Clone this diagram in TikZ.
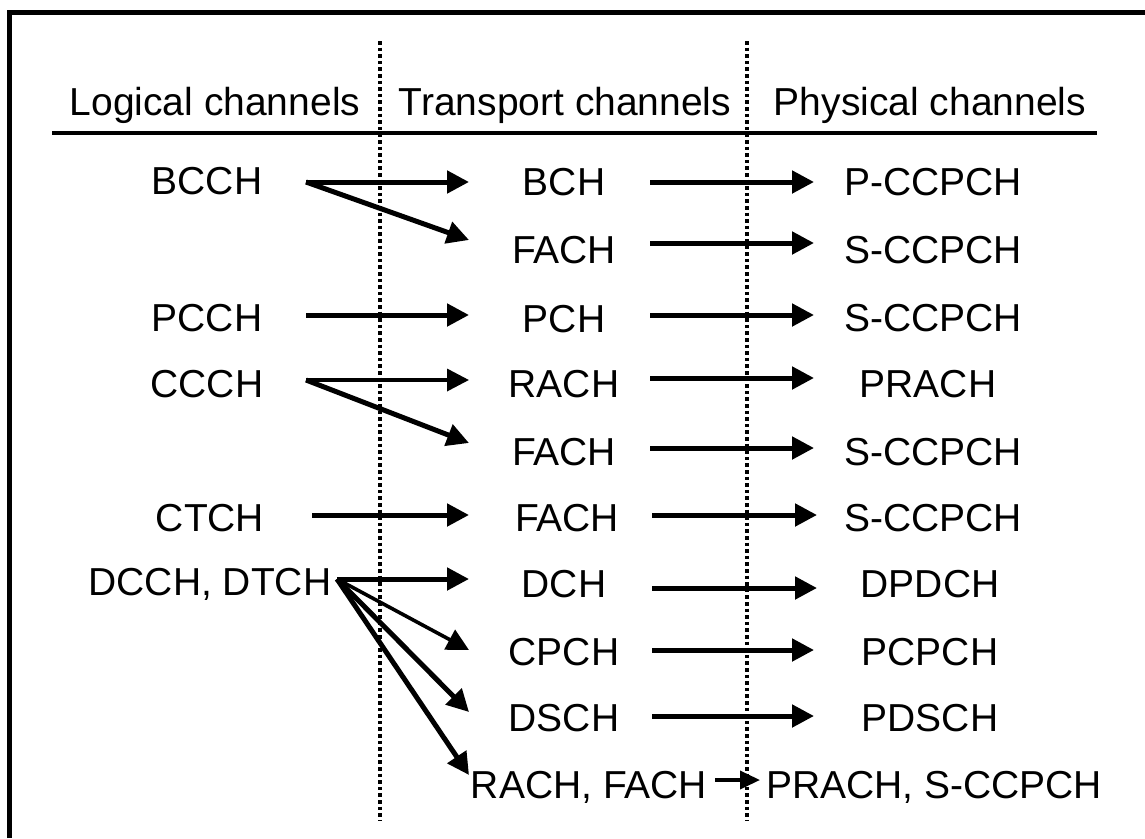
\documentclass[tikz,border=0pt]{standalone}
\usepackage{fontspec}
\setmainfont{Liberation Sans}
\usetikzlibrary{arrows.meta}
\begin{document}
\begin{tikzpicture}[x=1pt,y=-1pt,
  lbl/.style={anchor=base,inner sep=0pt,font=\fontsize{39}{45}\selectfont},
  conn/.style={line width=5pt,-{Triangle[length=22pt,width=22pt]}},
  thinconn/.style={conn,line width=3.6pt},
  sep/.style={line width=4.2pt,dash pattern=on 3.6pt off 3pt},
  rule/.style={line width=4.5pt}]
\useasboundingbox (0,0) rectangle (1145,838);
\fill[white] (0,0) rectangle (1145,838);

% frame (top and left edges)
\draw[line width=5pt] (9,838) -- (9,12) -- (1145,12);

% column separators and header rule
\draw[sep] (380,41) -- (380,820);
\draw[sep] (747,41) -- (747,820);
\draw[rule] (52,133) -- (1097,133);

% headers
\node[lbl] (hlog) at (215,115) {Logical channels};
\node[lbl] (htr)  at (565,115) {Transport channels};
\node[lbl] (hph)  at (930,115) {Physical channels};

% logical channels
\node[lbl] (bcch) at (207,194) {BCCH};
\node[lbl] (pcch) at (207,331) {PCCH};
\node[lbl] (ccch) at (207,397) {CCCH};
\node[lbl] (ctch) at (210,531) {CTCH};
\node[lbl] (dcch) at (210,595) {DCCH, DTCH};

% transport channels
\node[lbl] (bch)   at (564,195) {BCH};
\node[lbl] (fach1) at (564,263) {FACH};
\node[lbl] (pch)   at (564,332) {PCH};
\node[lbl] (rach)  at (564,397) {RACH};
\node[lbl] (fach2) at (564,465) {FACH};
\node[lbl] (fach3) at (567,531) {FACH};
\node[lbl] (dch)   at (564,597) {DCH};
\node[lbl] (cpch)  at (564,665) {CPCH};
\node[lbl] (dsch)  at (564,731) {DSCH};
\node[lbl] (rafa)  at (589,798) {RACH, FACH};

% physical channels
\node[lbl] (pccpch)  at (933,195) {P-CCPCH};
\node[lbl] (sccpch1) at (933,263) {S-CCPCH};
\node[lbl] (sccpch2) at (933,331) {S-CCPCH};
\node[lbl] (prach)   at (928,397) {PRACH};
\node[lbl] (sccpch3) at (933,465) {S-CCPCH};
\node[lbl] (sccpch4) at (933,531) {S-CCPCH};
\node[lbl] (dpdch)   at (930,597) {DPDCH};
\node[lbl] (pcpch)   at (930,665) {PCPCH};
\node[lbl] (pdsch)   at (930,731) {PDSCH};
\node[lbl] (prsc)    at (934,798) {PRACH, S-CCPCH};

% connector ports
\coordinate (bcchO) at (306,182);
\coordinate (pcchO) at (306,315);
\coordinate (ccchO) at (306,380);
\coordinate (ctchO) at (312,515);
\coordinate (dcchO) at (337,579);

\coordinate (bchI)   at (469,182);
\coordinate (fach1I) at (469,240);
\coordinate (pchI)   at (469,315);
\coordinate (rachI)  at (469,380);
\coordinate (fach2I) at (469,443);
\coordinate (fach3I) at (469,515);
\coordinate (dchI)   at (469,579);
\coordinate (cpchI)  at (469,650);
\coordinate (dschI)  at (469,712);
\coordinate (rafaI)  at (469,775);

\coordinate (bchO)   at (650,182);
\coordinate (fach1O) at (650,243);
\coordinate (pchO)   at (650,315);
\coordinate (rachO)  at (650,378);
\coordinate (fach2O) at (650,448);
\coordinate (fach3O) at (652,515);
\coordinate (dchO)   at (652,588);
\coordinate (cpchO)  at (652,650);
\coordinate (dschO)  at (652,716);
\coordinate (rafaO)  at (715,780);

\coordinate (pccpchI)  at (814,182);
\coordinate (sccpch1I) at (814,243);
\coordinate (sccpch2I) at (814,315);
\coordinate (prachI)   at (814,378);
\coordinate (sccpch3I) at (814,448);
\coordinate (sccpch4I) at (817,515);
\coordinate (dpdchI)   at (817,588);
\coordinate (pcpchI)   at (814,650);
\coordinate (pdschI)   at (814,716);
\coordinate (prscI)    at (760,780);

% logical -> transport
\draw[conn] (bcchO) -- (bchI);
\draw[conn] (bcchO) -- (fach1I);
\draw[conn] (pcchO) -- (pchI);
\draw[thinconn] (ccchO) -- (rachI);
\draw[conn] (ccchO) -- (fach2I);
\draw[conn] (ctchO) -- (fach3I);
\draw[conn] (dcchO) -- (dchI);
\draw[thinconn] (dcchO) -- (cpchI);
\draw[conn] (dcchO) -- (dschI);
\draw[conn] (dcchO) -- (rafaI);

% transport -> physical
\draw[conn] (bchO) -- (pccpchI);
\draw[conn] (fach1O) -- (sccpch1I);
\draw[conn] (pchO) -- (sccpch2I);
\draw[conn] (rachO) -- (prachI);
\draw[conn] (fach2O) -- (sccpch3I);
\draw[conn] (fach3O) -- (sccpch4I);
\draw[conn] (dchO) -- (dpdchI);
\draw[conn] (cpchO) -- (pcpchI);
\draw[conn] (dschO) -- (pdschI);
\draw[line width=3.6pt,-{Triangle[length=20pt,width=18pt]}] (rafaO) -- (prscI);
\end{tikzpicture}
\end{document}
